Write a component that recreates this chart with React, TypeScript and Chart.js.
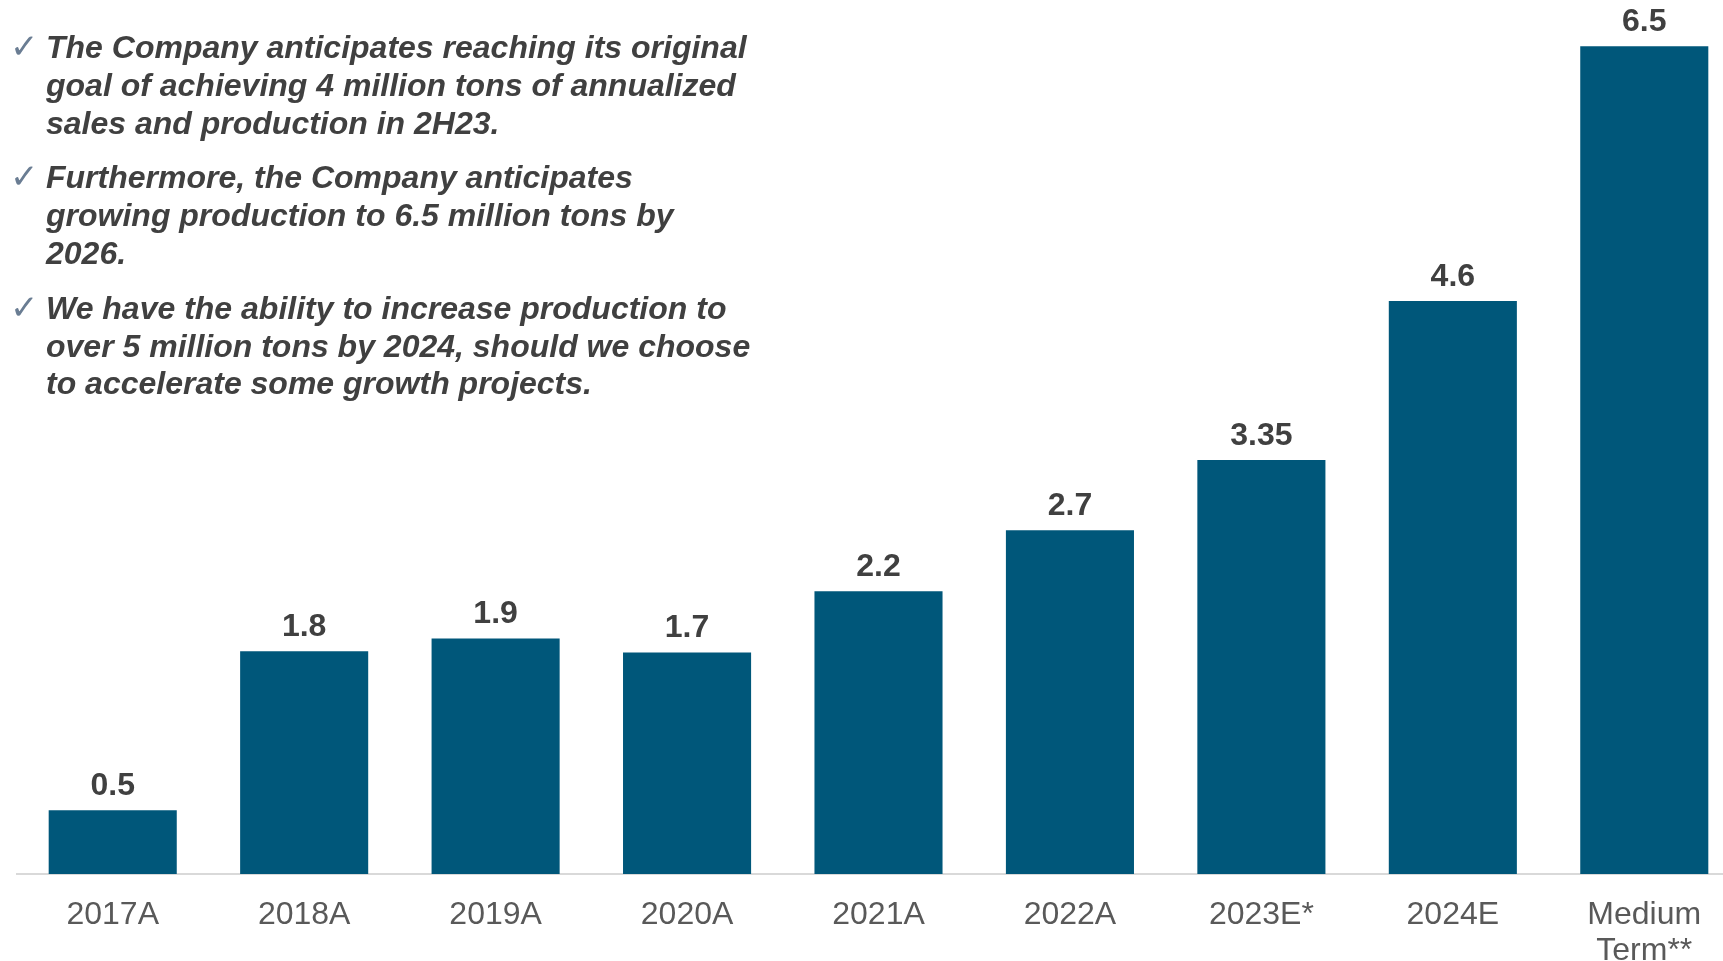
import React, { useEffect, useRef } from "react";
import { Chart, registerables } from "chart.js";

Chart.register(...registerables);

const categories: (string | string[])[] = [
  "2017A",
  "2018A",
  "2019A",
  "2020A",
  "2021A",
  "2022A",
  "2023E*",
  "2024E",
  ["Medium", "Term**"],
];
const barValues: number[] = [0.5, 1.75, 1.85, 1.74, 2.22, 2.7, 3.25, 4.5, 6.5];
const valueLabels: string[] = ["0.5", "1.8", "1.9", "1.7", "2.2", "2.7", "3.35", "4.6", "6.5"];
const bulletPoints: string[][] = [
  [
    "The Company anticipates reaching its original",
    "goal of achieving 4 million tons of annualized",
    "sales and production in 2H23.",
  ],
  [
    "Furthermore, the Company anticipates",
    "growing production to 6.5 million tons by",
    "2026.",
  ],
  [
    "We have the ability to increase production to",
    "over 5 million tons by 2024, should we choose",
    "to accelerate some growth projects.",
  ],
];
const yMax = 6.8;

const FONT = "'Liberation Sans', Arial, Helvetica, sans-serif";
const BAR_COLOR = "#00577A";

const valueLabelPlugin = {
  id: "valueLabels",
  afterDatasetsDraw(chart: any) {
    const ctx = chart.ctx;
    const meta = chart.getDatasetMeta(0);
    ctx.save();
    ctx.font = `bold 32px ${FONT}`;
    ctx.fillStyle = "#404040";
    ctx.textAlign = "center";
    ctx.textBaseline = "alphabetic";
    meta.data.forEach((bar: any, i: number) => {
      ctx.fillText(valueLabels[i], bar.x, bar.y - 15);
    });
    ctx.restore();
  },
};

export default function App() {
  const canvasRef = useRef<HTMLCanvasElement | null>(null);

  useEffect(() => {
    if (!canvasRef.current) return;
    const chart = new Chart(canvasRef.current, {
      type: "bar",
      data: {
        labels: categories as any,
        datasets: [
          {
            data: barValues,
            backgroundColor: BAR_COLOR,
            borderWidth: 0,
            barPercentage: 0.669,
            categoryPercentage: 1,
          },
        ],
      },
      options: {
        responsive: false,
        maintainAspectRatio: false,
        animation: false,
        layout: { padding: { left: 17, right: 20, top: 8, bottom: 0 } },
        plugins: {
          legend: { display: false },
          tooltip: { enabled: false },
        },
        scales: {
          x: {
            grid: { display: false, drawTicks: false },
            border: { display: true, color: "#d9d9d9", width: 2 },
            ticks: {
              color: "#595959",
              font: { family: FONT, size: 32, lineHeight: 1.1 },
              padding: 24,
              maxRotation: 0,
              minRotation: 0,
              autoSkip: false,
            },
            afterFit: (s: any) => {
              s.height = 87;
            },
          },
          y: { display: false, min: 0, max: yMax },
        },
      },
      plugins: [valueLabelPlugin],
    });
    return () => chart.destroy();
  }, []);

  return (
    <div
      style={{
        position: "fixed",
        left: 0,
        top: 0,
        width: 1723,
        height: 961,
        overflow: "hidden",
        background: "#ffffff",
      }}
    >
      <canvas ref={canvasRef} width={1760} height={961} style={{ display: "block" }} />
      <div
        style={{
          position: "absolute",
          left: 46,
          top: 29,
          fontFamily: FONT,
          fontWeight: 700,
          fontStyle: "italic",
          fontSize: 32,
          lineHeight: "37.8px",
          color: "#404040",
          whiteSpace: "nowrap",
        }}
      >
        {bulletPoints.map((lines, i) => (
          <div key={i} style={{ position: "relative", marginBottom: 17 }}>
            <span
              style={{
                position: "absolute",
                left: -36,
                top: 0,
                fontFamily: "'DejaVu Sans', sans-serif",
                fontStyle: "normal",
                fontWeight: 400,
                fontSize: 34,
                lineHeight: "34px",
                color: "#6a7d93",
              }}
            >
              ✓
            </span>
            {lines.map((l, j) => (
              <div key={j}>{l}</div>
            ))}
          </div>
        ))}
      </div>
    </div>
  );
}
